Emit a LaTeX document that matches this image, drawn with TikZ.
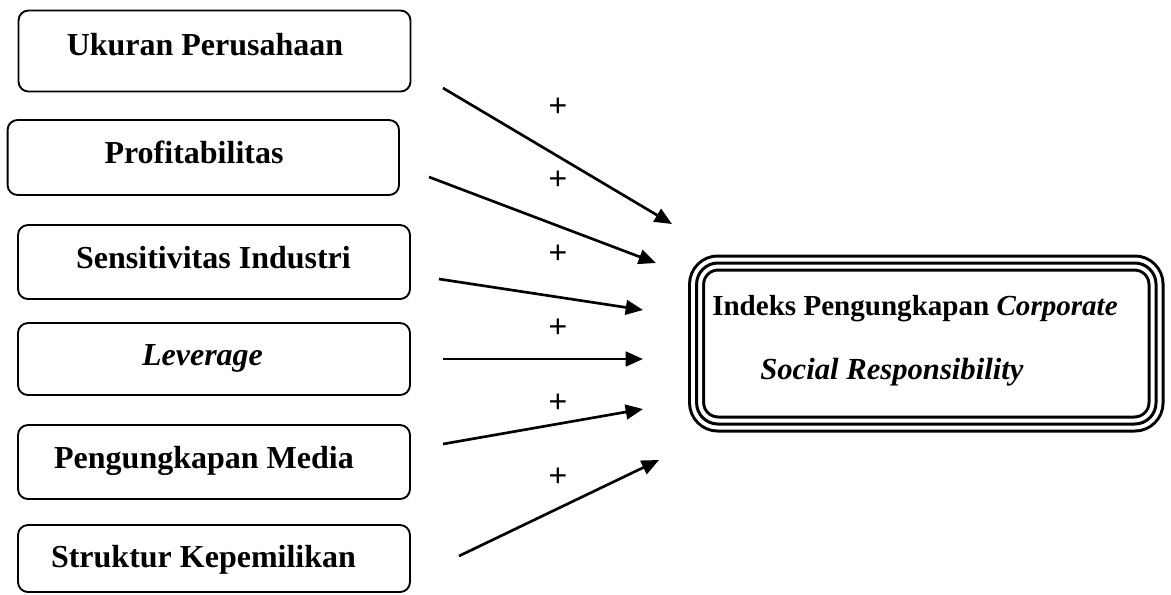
\documentclass[tikz,border=0pt]{standalone}
\usepackage{fontspec}
\setmainfont{Liberation Serif}
\newfontfamily\plusfont{Liberation Sans}
\usetikzlibrary{arrows.meta, positioning}

\begin{document}
\begin{tikzpicture}[
        x=0.75pt, y=-0.75pt,
        % Define styles for the different blocks
        varbox/.style={rectangle, draw, line width=1.4pt, rounded corners=7.5pt, inner sep=0pt},
        vartext/.style={anchor=base, inner sep=0pt, font=\fontsize{24}{28}\selectfont\bfseries},
        depbox/.style={rectangle, rounded corners=16pt, inner sep=0pt,
            preaction={draw, line width=12.75pt},
            preaction={draw=white, line width=8.25pt},
            draw, line width=2.25pt},
        deptext/.style={anchor=base west, inner sep=0pt, font=\fontsize{21.8}{26}\selectfont\bfseries},
        sign/.style={inner sep=0pt, font=\plusfont\fontsize{24}{28}\selectfont},
        line/.style={draw, -{Triangle[length=13pt, width=11pt]}, line width=2pt}
    ]
    \useasboundingbox (0,0) rectangle (1171,594);

    % --- Nodes ---
    % Independent variables
    \node [varbox, minimum width=294pt, minimum height=60.75pt] (ukuran) at (214.5,51) {};
    \node [varbox, minimum width=293.6pt, minimum height=56.25pt] (profit) at (203.3,157.5) {};
    \node [varbox, minimum width=294pt, minimum height=55.5pt] (sensitiv) at (214,262) {};
    \node [varbox, minimum width=294pt, minimum height=54pt] (leverage) at (214,359) {};
    \node [varbox, minimum width=294pt, minimum height=55.5pt] (media) at (214,462) {};
    \node [varbox, minimum width=294pt, minimum height=50.25pt] (struktur) at (214,558.5) {};

    \node [vartext] (ukuran-t) at (205,55) {Ukuran Perusahaan};
    \node [vartext] (profit-t) at (194,163) {Profitabilitas};
    \node [vartext] (sensitiv-t) at (213.5,268) {Sensitivitas Industri};
    \node [vartext] (leverage-t) at (202.5,365) {\itshape Leverage};
    \node [vartext] (media-t) at (204,468) {Pengungkapan Media};
    \node [vartext] (struktur-t) at (203.5,567) {Struktur Kepemilikan};

    % Dependent variable
    \node [depbox, minimum width=344.6pt, minimum height=120.75pt] (csr) at (926.3,343.5) {};
    \node [deptext] (csr-t1) at (712,315) {Indeks Pengungkapan \textit{Corporate}};
    \node [deptext, font=\fontsize{23}{27}\selectfont\bfseries] (csr-t2) at (760,379) {\textit{Social Responsibility}};

    % --- Edges (Arrows) ---
    \coordinate (ukuran-s) at (443,88);    \coordinate (ukuran-e) at (672,224);
    \coordinate (profit-s) at (429,177);   \coordinate (profit-e) at (656,263);
    \coordinate (sensitiv-s) at (439,279); \coordinate (sensitiv-e) at (643,310);
    \coordinate (leverage-s) at (443,359); \coordinate (leverage-e) at (643,359);
    \coordinate (media-s) at (443,444);    \coordinate (media-e) at (643,409);
    \coordinate (struktur-s) at (459,556); \coordinate (struktur-e) at (659,460);

    \foreach \v in {ukuran, profit, sensitiv, leverage, media, struktur}
        \path [line] (\v-s) -- (\v-e);

    % Signs
    \foreach \y [count=\i] in {107, 180, 254, 328, 403, 477}
        \node [sign] (sign\i) at (558,\y) {+};

\end{tikzpicture}
\end{document}
